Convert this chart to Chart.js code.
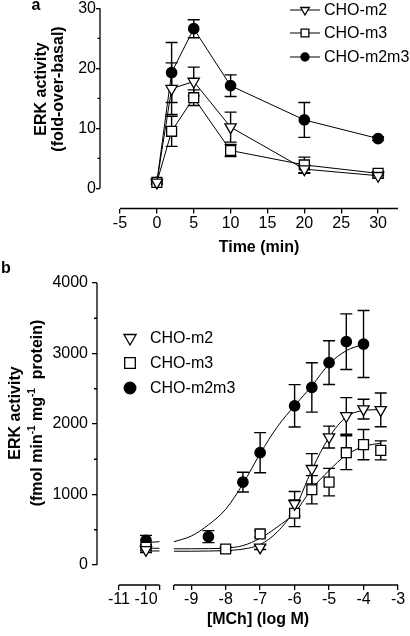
<!DOCTYPE html>
<html>
<head>
<meta charset="utf-8">
<script src="https://cdn.jsdelivr.net/npm/chart.js@4.4.1/dist/chart.umd.min.js"></script>
<style>
  body { margin: 0; background: #fff; }
  #wrap { position: relative; width: 410px; height: 636px; }
  canvas { position: absolute; left: 0; }
</style>
</head>
<body>
<div id="wrap">
  <canvas id="timeChart" width="410" height="260" style="top:0;width:410px;height:260px"></canvas>
  <canvas id="doseChart" width="410" height="376" style="top:260px;width:410px;height:376px"></canvas>
</div>
<script>
// ---- panel a: time course ----
const seriesNames = ['CHO-m2', 'CHO-m3', 'CHO-m2m3'];
const timeMin = [0, 2, 5, 10, 20, 30];
const timeM2 = [1.0, 16.6, 17.8, 10.2, 3.2, 2.1];
const timeM2Err = [0.3, 4.3, 2.4, 2.5, 0.7, 0.3];
const timeM3 = [1.0, 9.5, 15.1, 6.3, 3.9, 2.5];
const timeM3Err = [0.3, 2.5, 1.3, 1.0, 1.3, 0.3];
const timeM2M3 = [1.0, 19.3, 26.6, 17.1, 11.4, 8.3];
const timeM2M3Err = [0.3, 5.0, 1.5, 1.8, 2.9, 0.3];
const timeTicks = [-5, 0, 5, 10, 15, 20, 25, 30];
const foldTicks = [0, 10, 20, 30];
const foldMinor = [5, 15, 25];

// ---- panel b: concentration response ----
const doseM2X = [-10, -7, -6, -5.5, -5, -4.5, -4, -3.5];
const doseM2 = [215, 250, 868, 1365, 1815, 2114, 2210, 2200];
const doseM2Err = [40, 30, 175, 215, 155, 260, 140, 240];
const doseM3X = [-10, -8, -7, -6, -5.5, -5, -4.5, -4, -3.5];
const doseM3 = [250, 227, 440, 734, 1067, 1175, 1593, 1707, 1626];
const doseM3Err = [40, 25, 45, 190, 200, 195, 240, 215, 135];
const doseM2M3X = [-10, -8.5, -7.5, -7, -6, -5.5, -5, -4.5, -4];
const doseM2M3 = [350, 402, 1175, 1593, 2258, 2518, 2870, 3167, 3134];
const doseM2M3Err = [70, 85, 140, 285, 300, 350, 310, 395, 475];

// fitted curves
const curveX = [-9.5, -9, -8.5, -8, -7.5, -7, -6.5, -6, -5.5, -5, -4.5, -4, -3.5];
const curveM2 = [195, 195, 198, 205, 225, 290, 470, 790, 1350, 1810, 2100, 2190, 2205];
const curveM3 = [230, 230, 232, 240, 275, 380, 540, 740, 1080, 1340, 1560, 1680, 1730];
const curveM2M3X = [-9.5, -9, -8.5, -8, -7.5, -7, -6.5, -6, -5.5, -5, -4.5, -4];
const curveM2M3 = [330, 410, 570, 790, 1150, 1580, 1960, 2260, 2540, 2850, 3040, 3130];
// short curve pieces on the left side of the axis break
const stubX = [-9.85, -9.5];
const stubM2 = [198, 199];
const stubM3 = [237, 237];
const stubM2M3 = [322, 330];

const doseTicks = [-11, -10, -9, -8, -7, -6, -5, -4, -3];
const activityTicks = [0, 1000, 2000, 3000, 4000];
const activityMinor = [500, 1500, 2500, 3500];

// axis break: left piece (-11..-9.5) is drawn narrower and shifted
const BREAK_AT = -9.5;
const LEFT_END = -9.92;
const LEFT_SCALE = 0.783;
function leftAxis(v) { return LEFT_END + (v - BREAK_AT) * LEFT_SCALE; }
function doseAxis(v) { return v < BREAK_AT ? leftAxis(v) : v; }

const INK = '#000';
const FONT = "'Liberation Sans', Arial, sans-serif";
Chart.defaults.font.family = FONT;
Chart.defaults.font.size = 16;
Chart.defaults.color = INK;
Chart.defaults.animation = false;

function pts(xs, ys, map) {
    return xs.map((x, i) => ({ x: map ? map(x) : x, y: ys[i] }));
}

const markers = [
    { pointStyle: 'triangle', pointRotation: 180, pointRadius: 6.5, pointBackgroundColor: '#fff' },
    { pointStyle: 'rect', pointRotation: 0, pointRadius: 7, pointBackgroundColor: '#fff' },
    { pointStyle: 'circle', pointRotation: 0, pointRadius: 5.2, pointBackgroundColor: INK }
];

function drawMarker(ctx, i, x, y, r) {
    const m = markers[i];
    ctx.save();
    ctx.fillStyle = m.pointBackgroundColor;
    ctx.strokeStyle = INK;
    ctx.lineWidth = 1.3;
    Chart.helpers.drawPoint(ctx, { pointStyle: m.pointStyle, rotation: m.pointRotation, radius: r, borderWidth: 1.3 }, x, y);
    ctx.restore();
}

function vText(ctx, text, x, y) {
    ctx.save();
    ctx.translate(x, y);
    ctx.rotate(-Math.PI / 2);
    ctx.textAlign = 'center';
    ctx.textBaseline = 'middle';
    ctx.fillText(text, 0, 0);
    ctx.restore();
}

// rotated text with superscript pieces
function vRichText(ctx, parts, x, y) {
    ctx.save();
    ctx.translate(x, y);
    ctx.rotate(-Math.PI / 2);
    ctx.textBaseline = 'middle';
    ctx.textAlign = 'left';
    const fontOf = p => p.sup ? 'bold 10px ' + FONT : 'bold 16px ' + FONT;
    let total = 0;
    parts.forEach(p => { ctx.font = fontOf(p); total += ctx.measureText(p.t).width; });
    let cx = -total / 2;
    parts.forEach(p => {
        ctx.font = fontOf(p);
        ctx.fillText(p.t, cx, p.sup ? -6 : 0);
        cx += ctx.measureText(p.t).width;
    });
    ctx.restore();
}

const errorBars = {
    id: 'errorBars',
    beforeDatasetsDraw(chart) {
        const ctx = chart.ctx, xs = chart.scales.x, ys = chart.scales.y;
        ctx.save();
        ctx.strokeStyle = INK;
        ctx.lineWidth = 1.4;
        chart.data.datasets.forEach(ds => {
            if (!ds.errors) return;
            ds.data.forEach((p, i) => {
                const e = ds.errors[i];
                if (!e) return;
                const x = xs.getPixelForValue(p.x);
                const top = ys.getPixelForValue(p.y + e);
                const bot = ys.getPixelForValue(p.y - e);
                ctx.beginPath();
                ctx.moveTo(x, top); ctx.lineTo(x, bot);
                ctx.moveTo(x - 6, top); ctx.lineTo(x + 6, top);
                ctx.moveTo(x - 6, bot); ctx.lineTo(x + 6, bot);
                ctx.stroke();
            });
        });
        ctx.restore();
    }
};

const timeDecor = {
    id: 'timeDecor',
    afterDraw(chart) {
        const ctx = chart.ctx, xs = chart.scales.x, ys = chart.scales.y, area = chart.chartArea;
        ctx.save();
        ctx.strokeStyle = INK;
        ctx.lineWidth = 1.3;
        ctx.beginPath();
        ctx.moveTo(area.left, ys.getPixelForValue(0));
        ctx.lineTo(area.left, ys.getPixelForValue(30));
        ctx.moveTo(xs.getPixelForValue(-5), area.bottom);
        ctx.lineTo(area.right, area.bottom);
        foldMinor.forEach(v => {
            const y = ys.getPixelForValue(v);
            ctx.moveTo(area.left - 2.5, y); ctx.lineTo(area.left, y);
        });
        ctx.stroke();

        ctx.fillStyle = INK;
        ctx.font = 'bold 16px ' + FONT;
        ctx.textAlign = 'center';
        ctx.textBaseline = 'middle';
        ctx.fillText('a', 36, 6);
        ctx.fillText('Time (min)', 259, 248);
        vText(ctx, 'ERK activity', 41.5, 89);
        vText(ctx, '(fold-over-basal)', 59, 89);

        // legend
        ctx.font = '16px ' + FONT;
        ctx.textAlign = 'left';
        const rows = [10, 33, 57];
        const radii = [5, 5.5, 4];
        seriesNames.forEach((name, i) => {
            ctx.lineWidth = 1;
            ctx.beginPath();
            ctx.moveTo(290, rows[i]); ctx.lineTo(320, rows[i]);
            ctx.stroke();
            drawMarker(ctx, i, 305, rows[i], radii[i]);
            ctx.fillText(name, 324, rows[i] + 1);
        });
        ctx.restore();
    }
};

const doseDecor = {
    id: 'doseDecor',
    afterDraw(chart) {
        const ctx = chart.ctx, xs = chart.scales.x, ys = chart.scales.y, area = chart.chartArea;
        ctx.save();
        ctx.strokeStyle = INK;
        ctx.lineWidth = 1.3;
        ctx.beginPath();
        ctx.moveTo(area.left, ys.getPixelForValue(0));
        ctx.lineTo(area.left, ys.getPixelForValue(4000));
        ctx.moveTo(xs.getPixelForValue(doseAxis(-11)), area.bottom);
        ctx.lineTo(xs.getPixelForValue(LEFT_END), area.bottom);
        ctx.moveTo(xs.getPixelForValue(BREAK_AT), area.bottom);
        ctx.lineTo(xs.getPixelForValue(-3), area.bottom);
        activityMinor.forEach(v => {
            const y = ys.getPixelForValue(v);
            ctx.moveTo(area.left - 3, y); ctx.lineTo(area.left, y);
        });
        ctx.stroke();

        ctx.fillStyle = INK;
        ctx.font = 'bold 16px ' + FONT;
        ctx.textAlign = 'center';
        ctx.textBaseline = 'middle';
        ctx.fillText('b', 6, 9);
        ctx.fillText('[MCh] (log M)', 258, 360);
        vText(ctx, 'ERK activity', 16, 153);
        vRichText(ctx, [
            { t: '(fmol min' }, { t: '-1', sup: true },
            { t: ' mg' }, { t: '-1', sup: true },
            { t: '  protein)' }
        ], 38, 153);

        // legend
        ctx.font = '16px ' + FONT;
        ctx.textAlign = 'left';
        const rows = [78, 103, 128];
        const radii = [7, 7.5, 5.8];
        seriesNames.forEach((name, i) => {
            drawMarker(ctx, i, 130, rows[i], radii[i]);
            ctx.fillText(name, 150, rows[i] + 1);
        });
        ctx.restore();
    }
};

function pointSet(label, data, errors, i, line) {
    return Object.assign({
        label: label,
        data: data,
        errors: errors,
        showLine: line,
        borderColor: INK,
        borderWidth: 1,
        tension: 0,
        pointBorderColor: INK,
        pointBorderWidth: 1.3,
        clip: false
    }, markers[i]);
}

function curveSet(data) {
    return {
        data: data,
        showLine: true,
        borderColor: INK,
        borderWidth: 1,
        pointRadius: 0,
        tension: 0.4,
        cubicInterpolationMode: 'monotone'
    };
}

const tickFont = { size: 16, lineHeight: 1 };

new Chart(document.getElementById('timeChart'), {
    type: 'scatter',
    data: {
        datasets: [
            pointSet(seriesNames[0], pts(timeMin, timeM2), timeM2Err, 0, true),
            pointSet(seriesNames[1], pts(timeMin, timeM3), timeM3Err, 1, true),
            pointSet(seriesNames[2], pts(timeMin, timeM2M3), timeM2M3Err, 2, true)
        ]
    },
    options: {
        responsive: false,
        layout: { padding: { top: 8, right: 12, bottom: 21.5, left: 0 } },
        plugins: { legend: { display: false }, tooltip: { enabled: false } },
        scales: {
            x: {
                type: 'linear', min: -7.71, max: 32.7,
                afterBuildTicks: s => { s.ticks = timeTicks.map(v => ({ value: v })); },
                afterFit: s => { s.height = 30; },
                ticks: { font: tickFont, padding: 2.5, autoSkip: false, maxRotation: 0, callback: v => String(v) },
                grid: { drawOnChartArea: false, tickLength: 5, color: INK, lineWidth: 1.3 },
                border: { display: false }
            },
            y: {
                type: 'linear', min: -3.36, max: 30,
                afterBuildTicks: s => { s.ticks = foldTicks.map(v => ({ value: v })); },
                afterFit: s => { s.width = 100; },
                ticks: { font: tickFont, padding: 0, callback: v => String(v) },
                grid: { drawOnChartArea: false, tickLength: 4, color: INK, lineWidth: 1.3 },
                border: { display: false }
            }
        }
    },
    plugins: [errorBars, timeDecor]
});

new Chart(document.getElementById('doseChart'), {
    type: 'scatter',
    data: {
        datasets: [
            pointSet(seriesNames[0], pts(doseM2X, doseM2, doseAxis), doseM2Err, 0, false),
            pointSet(seriesNames[1], pts(doseM3X, doseM3, doseAxis), doseM3Err, 1, false),
            pointSet(seriesNames[2], pts(doseM2M3X, doseM2M3, doseAxis), doseM2M3Err, 2, false),
            curveSet(pts(curveX, curveM2)),
            curveSet(pts(curveX, curveM3)),
            curveSet(pts(curveM2M3X, curveM2M3)),
            curveSet(pts(stubX, stubM2, leftAxis)),
            curveSet(pts(stubX, stubM3, leftAxis)),
            curveSet(pts(stubX, stubM2M3, leftAxis))
        ]
    },
    options: {
        responsive: false,
        layout: { padding: { top: 23, right: 12, bottom: 21, left: 0 } },
        plugins: { legend: { display: false }, tooltip: { enabled: false } },
        scales: {
            x: {
                type: 'linear', min: -11.733, max: -3,
                afterBuildTicks: s => {
                    const vals = doseTicks.map(doseAxis).concat([LEFT_END, BREAK_AT]);
                    vals.sort((a, b) => a - b);
                    s.ticks = vals.map(v => ({ value: v }));
                },
                afterFit: s => { s.height = 30; },
                ticks: {
                    font: tickFont, padding: 2, autoSkip: false, maxRotation: 0,
                    callback: v => {
                        const d = doseTicks.find(t => Math.abs(doseAxis(t) - v) < 1e-6);
                        return d === undefined ? '' : String(d);
                    }
                },
                grid: { drawOnChartArea: false, tickLength: 5, color: INK, lineWidth: 1.3 },
                border: { display: false }
            },
            y: {
                type: 'linear', min: -284, max: 4000,
                afterBuildTicks: s => { s.ticks = activityTicks.map(v => ({ value: v })); },
                afterFit: s => { s.width = 97; },
                ticks: { font: tickFont, padding: 4, callback: v => String(v) },
                grid: { drawOnChartArea: false, tickLength: 5, color: INK, lineWidth: 1.3 },
                border: { display: false }
            }
        }
    },
    plugins: [errorBars, doseDecor]
});
</script>
</body>
</html>
